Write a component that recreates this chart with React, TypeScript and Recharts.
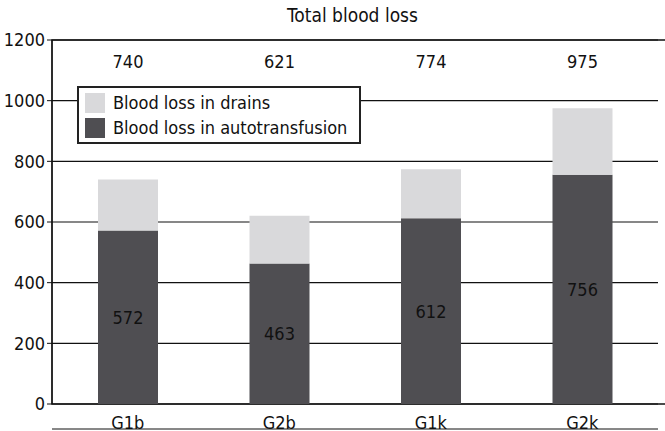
import { BarChart, Bar, XAxis, YAxis, CartesianGrid, LabelList, ReferenceArea } from 'recharts'

const groups = ['G1b', 'G2b', 'G1k', 'G2k']
const autotransfusion = [572, 463, 612, 756]
const totals = [740, 621, 774, 975]
const yTicks = [0, 200, 400, 600, 800, 1000, 1200]

const font = '"DejaVu Sans Condensed", "Liberation Sans Narrow", sans-serif'

const data = groups.map((g, i) => ({
  name: g,
  auto: autotransfusion[i],
  drains: totals[i] - autotransfusion[i],
  total: totals[i],
}))

function LegendBox() {
  const items = [
    { label: 'Blood loss in drains', color: '#d9d9db' },
    { label: 'Blood loss in autotransfusion', color: '#4f4e52' },
  ]
  return (
    <div style={{ position: 'absolute', left: 77, top: 86, width: 268, background: '#fff', border: '2px solid #222', padding: '2px 6px', fontFamily: font, fontSize: 18, color: '#111' }}>
      {items.map((it) => (
        <div key={it.label} style={{ display: 'flex', alignItems: 'center', height: 25 }}>
          <span style={{ width: 20, height: 20, background: it.color, marginRight: 8, display: 'inline-block' }} />
          {it.label}
        </div>
      ))}
    </div>
  )
}

export default function App() {
  return (
    <div style={{ position: 'absolute', left: 0, top: 0, width: 665, height: 431, background: '#fff' }}>
      <div style={{ position: 'absolute', top: 4, width: 665, textAlign: 'center', paddingLeft: 40, boxSizing: 'border-box', fontFamily: font, fontSize: 19, color: '#111' }}>
        Total blood loss
      </div>
      <BarChart width={665} height={431} data={data} margin={{ top: 40, right: 7, left: 0, bottom: 1 }} barSize={60}>
        <CartesianGrid vertical={false} stroke="#111" strokeWidth={1.2} />
        <XAxis xAxisId="t" type="number" domain={[0, 4]} ticks={[0, 1, 2, 3, 4]} height={1} tick={false} axisLine={{ stroke: '#111' }} tickLine={{ stroke: '#111' }} tickSize={8} />
        <XAxis dataKey="name" height={25} axisLine={false} tickLine={false} tick={{ fontFamily: font, fontSize: 18, fill: '#111' }} tickMargin={6} />
        <YAxis width={52} domain={[0, 1200]} ticks={yTicks} interval={0} axisLine={{ stroke: '#111' }} tickLine={{ stroke: '#111' }} tickSize={5} tick={{ fontFamily: font, fontSize: 18, fill: '#111' }} />
        <ReferenceArea xAxisId="t" x1={0} x2={4} y1={0} y2={1200} fill="none" stroke="#111" strokeWidth={1.5} ifOverflow="extendDomain" />
        <Bar dataKey="auto" stackId="a" fill="#4f4e52" isAnimationActive={false}>
          <LabelList dataKey="auto" position="center" style={{ fontFamily: font, fontSize: 18, fill: '#111' }} />
        </Bar>
        <Bar dataKey="drains" stackId="a" fill="#d9d9db" isAnimationActive={false}>
          <LabelList
            dataKey="total"
            content={(p: any) => (
              <text x={p.x + p.width / 2} y={68} textAnchor="middle" fontFamily={font} fontSize={18} fill="#111">
                {p.value}
              </text>
            )}
          />
        </Bar>
      </BarChart>
      <LegendBox />
    </div>
  )
}
